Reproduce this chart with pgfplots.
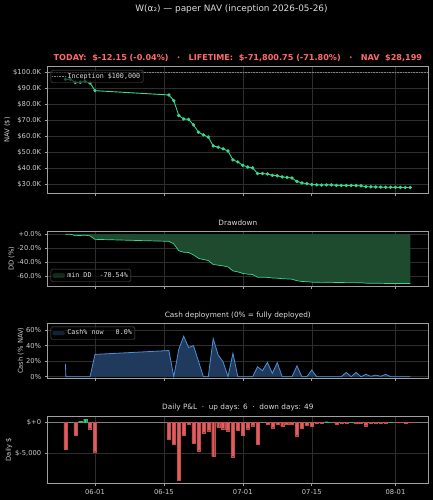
\documentclass[border=0pt]{standalone}
\usepackage{fontspec}
\setmainfont{DejaVu Sans}
\setmonofont{DejaVu Sans Mono}
\usepackage{pgfplots}
\pgfplotsset{compat=1.18}

\definecolor{navgreen}{HTML}{3DD68C}
\definecolor{ddfill}{HTML}{1E4A2E}
\definecolor{cashfill}{HTML}{1F3A5C}
\definecolor{cashline}{HTML}{4A90D9}
\definecolor{barred}{HTML}{E35D5D}
\definecolor{subred}{HTML}{FF6B6B}
\definecolor{ticktext}{HTML}{CCCCCC}
\definecolor{titletext}{HTML}{DDDDDD}
\definecolor{framegray}{HTML}{A0A0A0}
\definecolor{gridgray}{HTML}{2E2E2E}
\definecolor{legendgray}{HTML}{5A5A5A}

\pgfplotsset{
  panel/.style={
    scale only axis, width=380.3pt,
    xmin=-9.6, xmax=67.6,
    anchor=south west,
    axis line style={framegray, line width=0.6pt},
    tick style={framegray, line width=0.5pt},
    major tick length=3pt,
    tick align=outside,
    tick pos=left,
    xtick={0,14,30,44,61},
    xticklabels={},
    scaled y ticks=false,
    grid=major,
    major grid style={gridgray, line width=0.4pt},
    /pgf/number format/assume math mode=true,
    tick label style={font=\fontsize{6.75}{8}\selectfont, text=ticktext},
    label style={font=\fontsize{6.75}{8}\selectfont, text=ticktext},
    title style={font=\fontsize{7.3}{9}\selectfont, text=titletext,
      at={(0.5,1)}, anchor=base, inner sep=0pt},
    legend style={fill=black, fill opacity=0.6, draw opacity=1, text opacity=1,
      draw=legendgray, rounded corners=1.5pt,
      text=titletext, font=\ttfamily\fontsize{6.7}{8}\selectfont,
      inner sep=1pt},
    legend cell align=left,
  },
  linelegend/.style={legend image code/.code={\draw[##1] (0pt,0pt) -- (13pt,0pt);}},
  patchlegend/.style={legend image code/.code={\draw[##1] (0pt,-2.5pt) rectangle (13pt,2.5pt);}},
}

\begin{document}
\begin{tikzpicture}
\fill[black] (0,0) rectangle (433pt,500pt);

\node[anchor=base, text=titletext, font=\fontsize{8.9}{10}\selectfont, inner sep=0pt]
  at (231.5pt,488.7pt) {W(α₂) — paper NAV (inception 2026-05-26)};

% NAV
\begin{axis}[panel, at={(47.7pt,306.7pt)}, height=126.6pt,
  ymin=24600, ymax=103590,
  ytick={30000,40000,50000,60000,70000,80000,90000,100000},
  yticklabels={\$30.0K,\$40.0K,\$50.0K,\$60.0K,\$70.0K,\$80.0K,\$90.0K,\$100.0K},
  ylabel={NAV (\$)},
  ylabel style={at={(axis description cs:-0.106,0.5)}, anchor=center},
  title={TODAY:\ \ \$-12.15 (-0.04\%)\ \ \ ·\ \ \ LIFETIME:\ \ \$-71,800.75 (-71.80\%)\ \ \ ·\ \ \ NAV\ \ \$28,199},
  title style={font=\bfseries\fontsize{8.1}{9}\selectfont, text=subred},
  legend style={at={(axis description cs:0.008,0.974)}, anchor=north west},
]
\addplot[gray, densely dotted, line width=0.6pt, linelegend] coordinates {(-9.6,100000) (67.6,100000)};
\addlegendentry{Inception \$100,000}
\addplot[navgreen, line width=0.9pt, mark=*, mark size=1.2pt,
  mark options={fill=navgreen, draw=navgreen}, forget plot] coordinates {
(-6,95700) (-5,95730) (-4,93690) (-3,93890) (-2,94390) (-1,93370) (0,88640)
(15,85950) (16,82400) (17,73100) (18,71000) (19,70700) (20,67300) (21,62720)
(22,61050) (23,59700) (24,54170) (25,53360) (26,52340) (27,50990) (28,45450)
(29,44150) (30,42050) (31,41030) (32,40490) (33,36920) (34,36920) (35,36670)
(36,35800) (37,35500) (38,34850) (39,34500) (40,34150) (41,32000) (42,31050)
(43,30650) (44,30090) (45,29910) (46,29760) (47,29860) (48,29860) (49,29560)
(50,29500) (51,29450) (52,29470) (53,29410) (54,29260) (55,28720) (56,28660)
(57,28530) (58,28470) (59,28340) (60,28355) (61,28315) (62,28285) (63,28211.4)
(64,28199.25)};
\end{axis}

% Drawdown
\begin{axis}[panel, at={(47.7pt,214pt)}, height=54.3pt,
  ymin=-74.07, ymax=3.53,
  ytick={-60,-40,-20,0},
  yticklabels={-60.0\%,-40.0\%,-20.0\%,+0.0\%},
  ylabel={DD (\%)},
  ylabel style={at={(axis description cs:-0.095,0.5)}, anchor=center},
  title={Drawdown},
  legend style={at={(axis description cs:0.008,0.074)}, anchor=south west},
]
\addplot[fill=ddfill, draw=none, patchlegend] coordinates {
(-6,-0.03) (-5,0) (-4,-2.13) (-3,-1.92) (-2,-1.40) (-1,-2.47) (0,-7.41)
(15,-10.22) (16,-13.92) (17,-23.64) (18,-25.83) (19,-26.15) (20,-29.70) (21,-34.48)
(22,-36.23) (23,-37.64) (24,-43.41) (25,-44.26) (26,-45.33) (27,-46.74) (28,-52.52)
(29,-53.88) (30,-56.07) (31,-57.14) (32,-57.70) (33,-61.43) (34,-61.43) (35,-61.69)
(36,-62.60) (37,-62.92) (38,-63.60) (39,-63.96) (40,-64.33) (41,-66.57) (42,-67.56)
(43,-67.98) (44,-68.57) (45,-68.76) (46,-68.91) (47,-68.81) (48,-68.81) (49,-69.12)
(50,-69.18) (51,-69.24) (52,-69.22) (53,-69.28) (54,-69.43) (55,-70.00) (56,-70.06)
(57,-70.20) (58,-70.26) (59,-70.40) (60,-70.38) (61,-70.42) (62,-70.45) (63,-70.53)
(64,-70.54)} \closedcycle;
\addlegendentry{min DD\ \ -70.54\%}
\addplot[navgreen, line width=0.7pt, forget plot] coordinates {
(-6,-0.03) (-5,0) (-4,-2.13) (-3,-1.92) (-2,-1.40) (-1,-2.47) (0,-7.41)
(15,-10.22) (16,-13.92) (17,-23.64) (18,-25.83) (19,-26.15) (20,-29.70) (21,-34.48)
(22,-36.23) (23,-37.64) (24,-43.41) (25,-44.26) (26,-45.33) (27,-46.74) (28,-52.52)
(29,-53.88) (30,-56.07) (31,-57.14) (32,-57.70) (33,-61.43) (34,-61.43) (35,-61.69)
(36,-62.60) (37,-62.92) (38,-63.60) (39,-63.96) (40,-64.33) (41,-66.57) (42,-67.56)
(43,-67.98) (44,-68.57) (45,-68.76) (46,-68.91) (47,-68.81) (48,-68.81) (49,-69.12)
(50,-69.18) (51,-69.24) (52,-69.22) (53,-69.28) (54,-69.43) (55,-70.00) (56,-70.06)
(57,-70.20) (58,-70.26) (59,-70.40) (60,-70.38) (61,-70.42) (62,-70.45) (63,-70.53)
(64,-70.54)};
\end{axis}

% Cash deployment
\begin{axis}[panel, at={(47.7pt,122pt)}, height=54.7pt,
  ymin=-1.7, ymax=68.6,
  ytick={0,20,40,60},
  yticklabels={0\%,20\%,40\%,60\%},
  ylabel={Cash (\% NAV)},
  ylabel style={at={(axis description cs:-0.071,0.5)}, anchor=center},
  title={Cash deployment (0\% = fully deployed)},
  legend style={at={(axis description cs:0.008,0.938)}, anchor=north west},
]
\addplot[fill=cashfill, draw=none, patchlegend] coordinates {
(-6,16.3) (-5.9,0) (-5,0) (-4,0) (-3,0) (-2,0) (-1,0) (0,28.6)
(15,33.6) (16,0) (17,35) (18,52) (19,37.6) (20,39.8) (21,20) (22,0) (23,0)
(24,49) (25,28) (26,19) (27,0) (28,30) (29,0) (30,0) (31,0) (32,0)
(33,12.8) (34,7.7) (35,18.4) (36,4.3) (37,18) (38,0) (39,0) (40,0) (41,14)
(42,0) (43,0) (44,8.5) (45,0) (46,0) (47,0) (48,0) (49,0) (50,0) (51,5.5)
(52,0) (53,5.5) (54,0) (55,3) (56,0.5) (57,2) (58,0.5) (59,3) (60,0)
(61,0) (62,0) (63,0) (64,0)} \closedcycle;
\addlegendentry{Cash\% now\ \ \ 0.0\%}
\addplot[cashline, line width=0.8pt, forget plot] coordinates {
(-6,16.3) (-5.9,0) (-5,0) (-4,0) (-3,0) (-2,0) (-1,0) (0,28.6)
(15,33.6) (16,0) (17,35) (18,52) (19,37.6) (20,39.8) (21,20) (22,0) (23,0)
(24,49) (25,28) (26,19) (27,0) (28,30) (29,0) (30,0) (31,0) (32,0)
(33,12.8) (34,7.7) (35,18.4) (36,4.3) (37,18) (38,0) (39,0) (40,0) (41,14)
(42,0) (43,0) (44,8.5) (45,0) (46,0) (47,0) (48,0) (49,0) (50,0) (51,5.5)
(52,0) (53,5.5) (54,0) (55,3) (56,0.5) (57,2) (58,0.5) (59,3) (60,0)
(61,0) (62,0) (63,0) (64,0)};
\end{axis}

% Daily P&L
\begin{axis}[panel, at={(47.7pt,17pt)}, height=67pt,
  ymin=-9790, ymax=1016,
  ytick={-5000,0},
  yticklabels={\$-5{,}000,\$+0},
  xticklabels={06-01,06-15,07-01,07-15,08-01},
  ylabel={Daily \$},
  ylabel style={at={(axis description cs:-0.102,0.5)}, anchor=center},
  title={Daily P\&L\ \ ·\ \ up days: 6\ \ ·\ \ down days: 49},
]
\addplot[gray, line width=0.5pt] coordinates {(-9.6,0) (67.6,0)};
\addplot[ybar, bar width=0.62, bar shift=0pt, fill=barred, draw=barred!85!black, line width=0.2pt] coordinates {
(-6,-4300) (-4,-2040) (-1,-1020) (0,-4730)
(15,-2690) (16,-3550) (17,-9300) (18,-2100) (19,-300) (20,-3400) (21,-4580)
(22,-1670) (23,-1350) (24,-5530) (25,-810) (26,-1020) (27,-1350) (28,-5540)
(29,-1300) (30,-2100) (31,-1020) (32,-540) (33,-3570) (35,-250) (36,-870)
(37,-300) (38,-650) (39,-350) (40,-350) (41,-2150) (42,-950) (43,-400)
(44,-560) (45,-180) (46,-150) (49,-300) (50,-60) (51,-50) (53,-60)
(54,-150) (55,-540) (56,-60) (57,-130) (58,-60) (59,-130) (61,-40)
(62,-30) (63,-73.6) (64,-12.15)};
\addplot[ybar, bar width=0.62, bar shift=0pt, fill=navgreen, draw=navgreen!85!black, line width=0.2pt] coordinates {
(-5,30) (-3,200) (-2,500) (47,100) (52,20) (60,15)};
\end{axis}
\end{tikzpicture}
\end{document}
